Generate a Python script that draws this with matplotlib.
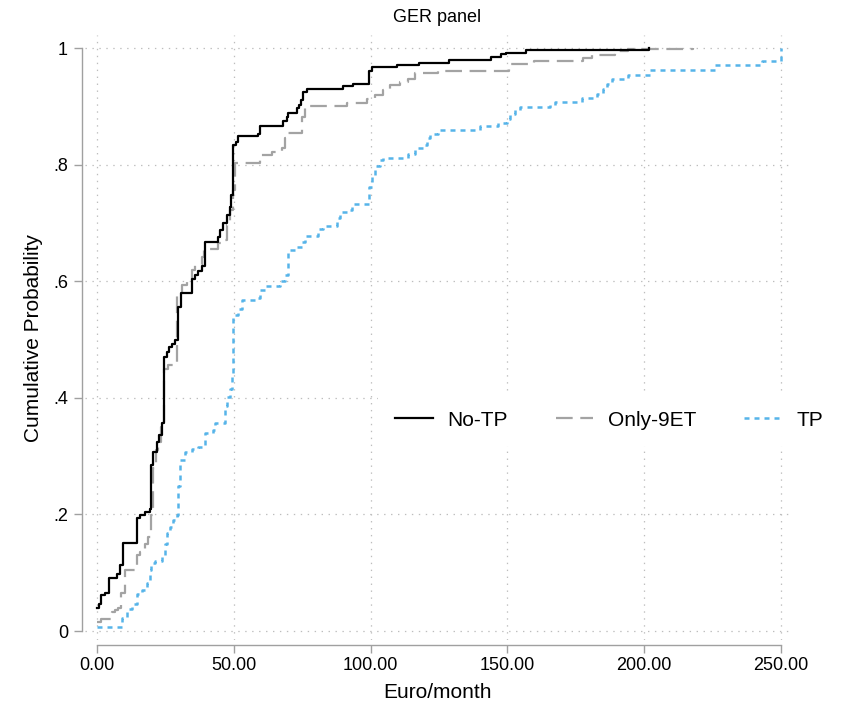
import matplotlib
matplotlib.use("Agg")
import matplotlib.pyplot as plt
from matplotlib.ticker import FixedLocator, FixedFormatter

plt.rcParams['font.family'] = ['Liberation Sans', 'DejaVu Sans']
plt.rcParams['lines.scale_dashes'] = False

# Empirical CDFs (Euro/month, cumulative share) - jump points of each step curve
notp_x = [0, 0.7, 1.5, 2.9, 4.5, 7.4, 8.4, 9.6, 14.7, 15.7, 17.5, 19.4, 19.6, 20.3,
          21.8, 22.7, 23.6, 24.6, 25.5, 26.4, 27.3, 28.5, 29.7, 30.6, 34.8, 35.8,
          37.0, 38.3, 39.5, 44.3, 45.0, 45.9, 47.6, 48.6, 49.1, 49.6, 50.8, 51.7,
          59.0, 59.6, 67.9, 69.3, 69.9, 73.0, 74.0, 74.6, 75.4, 76.6, 89.8, 93.7,
          99.4, 100.4, 109.5, 117.8, 128.8, 143.9, 147.7, 149.5, 156.8, 201.9]
notp_y = [0.040, 0.046, 0.062, 0.066, 0.091, 0.098, 0.113, 0.151, 0.194, 0.199, 0.205,
          0.209, 0.285, 0.307, 0.325, 0.336, 0.357, 0.470, 0.479, 0.488, 0.493, 0.499,
          0.555, 0.579, 0.603, 0.611, 0.618, 0.626, 0.668, 0.676, 0.688, 0.700, 0.714,
          0.728, 0.748, 0.834, 0.839, 0.849, 0.852, 0.867, 0.874, 0.882, 0.889, 0.897,
          0.902, 0.911, 0.924, 0.929, 0.934, 0.938, 0.961, 0.967, 0.971, 0.975, 0.979,
          0.984, 0.989, 0.992, 0.997, 1.0]

only9et_x = [0, 1.3, 5.4, 6.6, 7.8, 8.8, 10.2, 14.5, 15.7, 17.5, 18.8, 19.6, 20.6,
             21.6, 22.4, 23.3, 24.4, 26.1, 29.4, 31.0, 32.8, 34.6, 35.8, 38.3, 39.2,
             44.3, 45.2, 47.6, 48.6, 49.6, 50.4, 59.6, 63.8, 67.5, 68.7, 69.9, 74.8,
             76.0, 91.3, 98.6, 101.6, 104.6, 107.1, 110.7, 113.8, 116.2, 124.8, 150.5,
             159.8, 177.7, 181.0, 189.3, 194.0, 218.0]
only9et_y = [0.016, 0.020, 0.033, 0.036, 0.039, 0.065, 0.105, 0.130, 0.136, 0.150,
             0.162, 0.199, 0.279, 0.310, 0.325, 0.350, 0.450, 0.456, 0.580, 0.593,
             0.602, 0.620, 0.628, 0.642, 0.656, 0.665, 0.671, 0.696, 0.722, 0.756,
             0.802, 0.816, 0.822, 0.828, 0.845, 0.854, 0.882, 0.901, 0.905, 0.912,
             0.919, 0.928, 0.937, 0.942, 0.947, 0.957, 0.961, 0.972, 0.977, 0.982,
             0.988, 0.995, 0.998, 1.0]

tp_x = [0, 9.0, 10.8, 12.7, 14.5, 16.3, 18.1, 19.4, 19.8, 21.2, 23.6, 24.9, 25.7,
        26.7, 27.9, 29.1, 29.5, 30.3, 32.2, 34.6, 37.0, 39.5, 42.5, 43.1, 46.8, 47.6,
        48.6, 49.3, 49.6, 51.6, 52.9, 58.4, 59.6, 61.4, 66.9, 68.7, 69.9, 73.0, 74.8,
        76.0, 80.9, 82.7, 87.6, 88.8, 91.8, 93.1, 99.4, 100.4, 101.6, 103.4, 104.6,
        113.8, 116.2, 119.0, 120.5, 121.7, 124.8, 140.0, 146.7, 149.7, 150.9, 152.8,
        154.6, 165.6, 167.4, 177.1, 182.6, 185.0, 186.3, 188.1, 194.2, 202.1, 225.9,
        242.9, 250.0]
tp_y = [0.007, 0.022, 0.038, 0.047, 0.063, 0.070, 0.083, 0.105, 0.116, 0.120, 0.127,
        0.150, 0.168, 0.179, 0.190, 0.199, 0.248, 0.293, 0.307, 0.313, 0.316, 0.339,
        0.345, 0.356, 0.386, 0.401, 0.415, 0.443, 0.542, 0.552, 0.568, 0.571, 0.585,
        0.592, 0.600, 0.611, 0.654, 0.659, 0.668, 0.678, 0.689, 0.695, 0.708, 0.718,
        0.722, 0.733, 0.762, 0.779, 0.797, 0.808, 0.812, 0.819, 0.828, 0.834, 0.845,
        0.852, 0.859, 0.867, 0.872, 0.878, 0.887, 0.894, 0.899, 0.902, 0.907, 0.915,
        0.921, 0.929, 0.939, 0.946, 0.953, 0.962, 0.971, 0.978, 1.0]

x_ticks = [0, 50, 100, 150, 200, 250]
x_tick_labels = ['0.00', '50.00', '100.00', '150.00', '200.00', '250.00']
y_ticks = [0, 0.2, 0.4, 0.6, 0.8, 1.0]
y_tick_labels = ['0', '.2', '.4', '.6', '.8', '1']

W, H = 852, 704
fig = plt.figure(figsize=(W / 100, H / 100), dpi=100)
ax = fig.add_axes([85 / W, 1 - 640 / H, 705 / W, 605 / H])

axis_grey = '#a0a0a0'

ax.step(notp_x, notp_y, where='post', color='black', lw=1.6, label='No-TP', zorder=4)
ax.step(only9et_x, only9et_y, where='post', color='#a3a3a3', lw=1.6,
        dashes=(12, 5.5), label='Only-9ET', zorder=3)
ax.step(tp_x, tp_y, where='post', color='#56B4E9', lw=1.8,
        dashes=(3.6, 3.6), label='TP', zorder=2)

ax.set_xlim(-4.39, 253.3)
ax.set_ylim(-0.0154, 1.0223)

ax.xaxis.set_major_locator(FixedLocator(x_ticks))
ax.xaxis.set_major_formatter(FixedFormatter(x_tick_labels))
ax.yaxis.set_major_locator(FixedLocator(y_ticks))
ax.yaxis.set_major_formatter(FixedFormatter(y_tick_labels))

ax.grid(True, color='#bdbdbd', lw=0.9, linestyle=(0, (1, 4)))
ax.set_axisbelow(True)

for side in ['top', 'right']:
    ax.spines[side].set_visible(False)
ax.spines['left'].set_position(('outward', 2.2))
ax.spines['left'].set_bounds(0, 1)
ax.spines['bottom'].set_position(('outward', 3.6))
ax.spines['bottom'].set_bounds(0, 250)
for side in ['left', 'bottom']:
    ax.spines[side].set_color(axis_grey)
    ax.spines[side].set_linewidth(1.0)

ax.tick_params(axis='both', length=6, width=1.0, color=axis_grey,
               labelsize=13, labelcolor='black')
ax.tick_params(axis='x', pad=3)
ax.tick_params(axis='y', pad=4)

ax.set_xlabel('Euro/month', fontsize=15, labelpad=6)
ax.set_ylabel('Cumulative Probability', fontsize=15, labelpad=7)
ax.set_title('GER panel', fontsize=13, pad=9)

leg = ax.legend(ncol=3, loc='center', bbox_to_anchor=(609 / W, 1 - 420 / H),
                bbox_transform=fig.transFigure, fontsize=15, frameon=True,
                facecolor='white', edgecolor='none', framealpha=1.0,
                handlelength=1.8, handletextpad=0.7, columnspacing=2.3,
                borderpad=0.8, fancybox=False)
leg.set_zorder(5)

fig.savefig('out.png', dpi=100)
